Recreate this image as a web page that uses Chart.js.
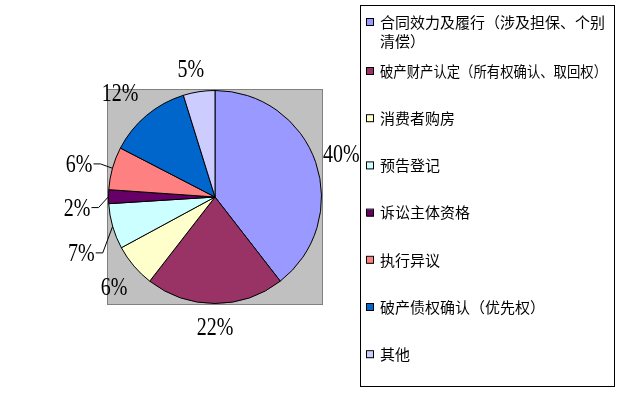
<!DOCTYPE html>
<html>
<head>
<meta charset="utf-8">
<script src="https://cdn.jsdelivr.net/npm/chart.js@4"></script>
<style>
  html, body { margin: 0; background: #fff; }
  canvas { display: block; }
</style>
</head>
<body>
<canvas id="chart" width="625" height="395"></canvas>
<script>
const categories = [
    ['合同效力及履行（涉及担保、个别', '清偿）'],
    '破产财产认定（所有权确认、取回权）',
    '消费者购房',
    '预告登记',
    '诉讼主体资格',
    '执行异议',
    '破产债权确认（优先权）',
    '其他'
];
const shares = [39.5, 21.0, 6.6, 6.9, 2.1, 6.5, 12.6, 4.8];
const percentLabels = ['40%', '22%', '6%', '7%', '2%', '6%', '12%', '5%'];
const sliceColors = ['#9999FF', '#993366', '#FFFFCC', '#CCFFFF', '#660066', '#FF8080', '#0066CC', '#CCCCFF'];

// label tweaks (Excel let some labels be dragged out, with leader lines)
const labelNudge = [[-6, 1], [0, 1], [2, 7], [-4, 22], [-3, 13], [-6, 4], [-5, -3], [-4, 2]];
const leaderSlices = [3, 4, 5];

const excelPie = {
    id: 'excelPie',
    beforeDatasetsDraw(chart) {
        const { ctx, chartArea: a } = chart;
        ctx.save();
        ctx.fillStyle = '#C0C0C0';
        ctx.fillRect(a.left - 1, a.top - 1, a.width + 2, a.height + 2);
        ctx.strokeStyle = '#808080';
        ctx.lineWidth = 1;
        ctx.strokeRect(a.left - 0.5, a.top - 0.5, a.width + 1, a.height + 1);
        ctx.restore();
    },
    afterDatasetsDraw(chart) {
        const ctx = chart.ctx;
        const arcs = chart.getDatasetMeta(0).data;
        ctx.save();
        ctx.font = '20px "Liberation Serif"';
        ctx.textAlign = 'center';
        ctx.textBaseline = 'middle';
        ctx.fillStyle = '#000';
        ctx.strokeStyle = '#000';
        ctx.lineWidth = 1;
        arcs.forEach((arc, i) => {
            const p = arc.getProps(['x', 'y', 'startAngle', 'endAngle', 'outerRadius'], true);
            const mid = (p.startAngle + p.endAngle) / 2;
            const ux = Math.cos(mid), uy = Math.sin(mid);
            const w = ctx.measureText(percentLabels[i]).width, h = 17;
            const r = p.outerRadius + 15;
            const lx = p.x + ux * (r + w / 2) + labelNudge[i][0];
            const ly = p.y + uy * (r + h / 2) + labelNudge[i][1];
            ctx.save();
            ctx.translate(lx, ly);
            ctx.scale(1, 1.25);
            ctx.fillText(percentLabels[i], 0, 0);
            ctx.restore();
            if (leaderSlices.includes(i)) {
                const sx = lx + w / 2 + 1, sy = ly - 2;
                ctx.beginPath();
                ctx.moveTo(sx, sy);
                ctx.lineTo(sx + 7, sy);
                ctx.lineTo(p.x + ux * p.outerRadius, p.y + uy * p.outerRadius);
                ctx.stroke();
            }
        });
        ctx.restore();
    },
    afterDraw(chart) {
        const ctx = chart.ctx;
        ctx.save();
        ctx.strokeStyle = '#000';
        ctx.lineWidth = 1;
        ctx.strokeRect(360.5, 5.5, 254, 381);
        ctx.font = '15px "Noto Sans CJK SC"';
        ctx.textAlign = 'left';
        ctx.textBaseline = 'middle';
        categories.forEach((name, i) => {
            const rowY = i === 0 ? 22 : 71 + (i - 1) * 47.2;
            ctx.fillStyle = sliceColors[i];
            ctx.fillRect(367, rowY - 3, 7, 7);
            ctx.strokeRect(366.5, rowY - 3.5, 7, 7);
            ctx.fillStyle = '#000';
            const lines = Array.isArray(name) ? name : [name];
            lines.forEach((line, k) => {
                ctx.fillText(line, 380, rowY + k * 19, 227);
            });
        });
        ctx.restore();
    }
};

new Chart(document.getElementById('chart'), {
    type: 'pie',
    data: {
        labels: categories,
        datasets: [{
            data: shares,
            backgroundColor: sliceColors,
            borderColor: '#000',
            borderWidth: 1,
            hoverOffset: 0
        }]
    },
    options: {
        responsive: false,
        animation: false,
        layout: { padding: { left: 108, top: 90, right: 303, bottom: 91 } },
        plugins: {
            legend: { display: false },
            tooltip: { enabled: false }
        }
    },
    plugins: [excelPie]
});
</script>
</body>
</html>
